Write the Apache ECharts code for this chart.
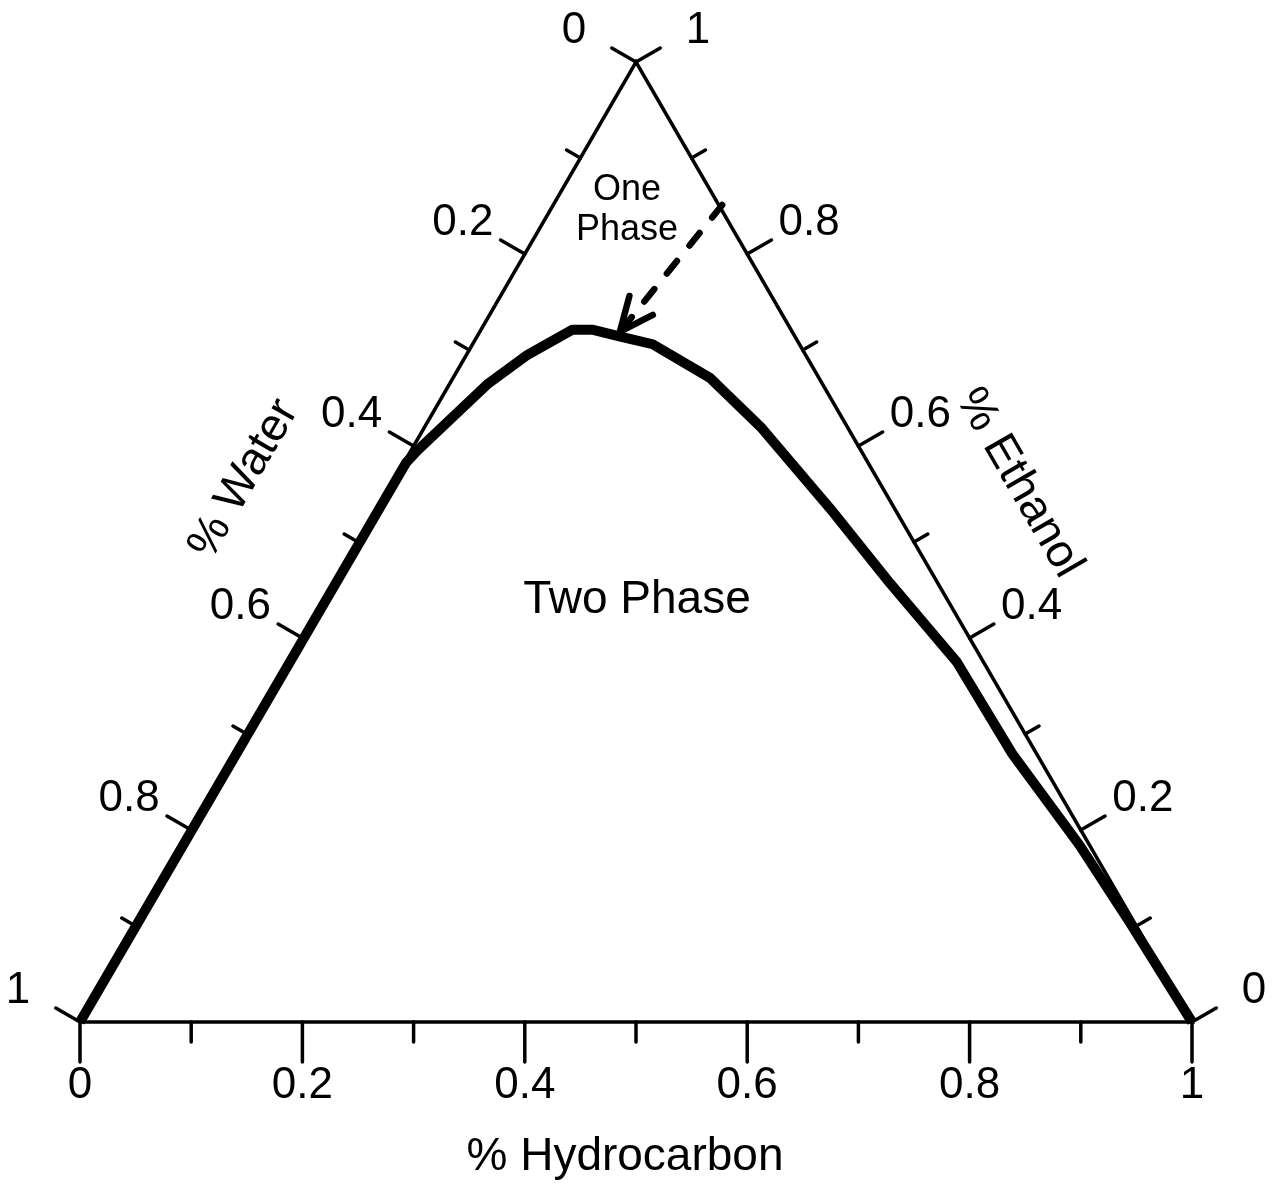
<!DOCTYPE html>
<html><head><meta charset="utf-8">
<script src="https://cdn.jsdelivr.net/npm/echarts@6/dist/echarts.min.js"></script>
<style>html,body{margin:0;padding:0;background:#fff}#c{width:1274px;height:1184px}</style>
</head><body><div id="c"></div>
<script>
// Binodal curve, ternary fractions (water = 1 - hydrocarbon - ethanol)
const hydrocarbon = [0, 0.002, 0.006, 0.034, 0.055, 0.082, 0.101, 0.129, 0.162, 0.231, 0.302, 0.407, 0.500, 0.601, 0.698, 0.807, 0.892, 1];
const ethanol     = [0, 0.583, 0.596, 0.664, 0.695, 0.721, 0.721, 0.714, 0.706, 0.671, 0.620, 0.535, 0.457, 0.375, 0.280, 0.184, 0.104, 0];
const water = hydrocarbon.map((h, i) => +(1 - h - ethanol[i]).toFixed(3));

const tickValues = [0, 0.1, 0.2, 0.3, 0.4, 0.5, 0.6, 0.7, 0.8, 0.9, 1];
const labelValues = [0, 0.2, 0.4, 0.6, 0.8, 1];
const tickLabels = ['0', '0.2', '0.4', '0.6', '0.8', '1'];

const arrowFrom = [0.152, 0.851]; // [hydrocarbon, ethanol]
const arrowTo   = [0.126, 0.719];

const FONT = '"Liberation Sans", Arial, sans-serif';

function toXY(h, e) { return [h + e / 2, e]; }

const sides = [
  { name: 'bottom', point: v => toXY(v, 0), normal: [0, 1], major: 40, minor: 20, off: [0, 64] },
  { name: 'left', point: w => toXY(0, 1 - w), normal: [-0.866, -0.5], major: 28, minor: 16, off: [-62, -31] },
  { name: 'right', point: e => toXY(1 - e, e), normal: [0.866, -0.5], major: 28, minor: 16, off: [62, -31] }
];

function sideSeries(side) {
  return {
    type: 'custom',
    clip: false,
    z: 3,
    data: tickValues.map(v => [v, 0]),
    renderItem: function (params, api) {
      const v = api.value(0);
      const p = api.coord(side.point(v));
      const idx = labelValues.findIndex(l => Math.abs(l - v) < 1e-6);
      const len = idx >= 0 ? side.major : side.minor;
      const children = [{
        type: 'line',
        shape: { x1: p[0], y1: p[1], x2: p[0] + side.normal[0] * len, y2: p[1] + side.normal[1] * len },
        style: { stroke: '#000', lineWidth: 3.5, lineCap: 'round' }
      }];
      if (idx >= 0) {
        children.push({
          type: 'text',
          style: {
            text: tickLabels[idx], x: p[0] + side.off[0], y: p[1] + side.off[1],
            align: 'center', verticalAlign: 'middle', fill: '#000',
            font: '44px ' + FONT
          }
        });
      }
      return { type: 'group', children: children };
    }
  };
}

const chart = echarts.init(document.getElementById('c'));
chart.setOption({
  animation: false,
  backgroundColor: '#fff',
  grid: { left: 80, top: 62, width: 1112, height: 960 },
  xAxis: { type: 'value', min: 0, max: 1, show: false },
  yAxis: { type: 'value', min: 0, max: 1, show: false },
  series: [
    {
      type: 'line', clip: false, symbol: 'none', z: 2,
      data: [toXY(0, 0), toXY(1, 0), toXY(0, 1), toXY(0, 0)],
      lineStyle: { color: '#000', width: 3.5, join: 'miter' }
    },
    sideSeries(sides[0]), sideSeries(sides[1]), sideSeries(sides[2]),
    {
      type: 'line', clip: false, symbol: 'none', z: 4,
      data: hydrocarbon.map((h, i) => toXY(h, ethanol[i])),
      lineStyle: { color: '#000', width: 10, join: 'round', cap: 'butt' }
    },
    {
      type: 'custom', clip: false, z: 5,
      data: [[0, 0]],
      renderItem: function (params, api) {
        const a = api.coord(toXY(arrowFrom[0], arrowFrom[1]));
        const b = api.coord(toXY(arrowTo[0], arrowTo[1]));
        const dx = a[0] - b[0], dy = a[1] - b[1];
        const L = Math.sqrt(dx * dx + dy * dy);
        const ux = dx / L, uy = dy / L;
        const ang = 24 * Math.PI / 180, hl = 37;
        function rot(t) { return [ux * Math.cos(t) - uy * Math.sin(t), ux * Math.sin(t) + uy * Math.cos(t)]; }
        const r1 = rot(ang), r2 = rot(-ang);
        return {
          type: 'group',
          children: [
            {
              type: 'line',
              shape: { x1: a[0], y1: a[1], x2: b[0] + ux * 8, y2: b[1] + uy * 8 },
              style: { stroke: '#000', lineWidth: 6.5, lineCap: 'round', lineDash: [16, 20] }
            },
            {
              type: 'polyline',
              shape: { points: [[b[0] + r1[0] * hl, b[1] + r1[1] * hl], [b[0], b[1]], [b[0] + r2[0] * hl, b[1] + r2[1] * hl]] },
              style: { stroke: '#000', fill: null, lineWidth: 6.5, lineCap: 'round', lineJoin: 'miter' }
            }
          ]
        };
      }
    }
  ],
  graphic: [
    { type: 'text', x: 627, y: 190, style: { text: 'One', font: '36px ' + FONT, fill: '#000', align: 'center', verticalAlign: 'middle' } },
    { type: 'text', x: 627, y: 230, style: { text: 'Phase', font: '36px ' + FONT, fill: '#000', align: 'center', verticalAlign: 'middle' } },
    { type: 'text', x: 637, y: 600, style: { text: 'Two Phase', font: '46px ' + FONT, fill: '#000', align: 'center', verticalAlign: 'middle' } },
    { type: 'text', x: 625, y: 1157, style: { text: '% Hydrocarbon', font: '46px ' + FONT, fill: '#000', align: 'center', verticalAlign: 'middle' } },
    { type: 'text', x: 244, y: 479, rotation: Math.PI / 3, style: { text: '% Water', font: '46px ' + FONT, fill: '#000', align: 'center', verticalAlign: 'middle' } },
    { type: 'text', x: 1019, y: 483, rotation: -Math.PI / 3, style: { text: '% Ethanol', font: '46px ' + FONT, fill: '#000', align: 'center', verticalAlign: 'middle' } }
  ]
});
</script>
</body></html>
